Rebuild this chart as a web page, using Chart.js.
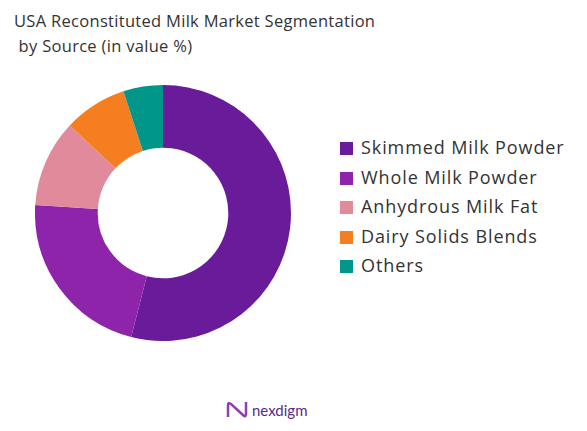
<!DOCTYPE html>
<html><head><meta charset="utf-8">
<script src="https://cdn.jsdelivr.net/npm/chart.js@4"></script>
<style>
html,body{margin:0;padding:0;background:#fff;width:587px;height:431px;overflow:hidden;font-family:"Open Sans",sans-serif}
#t{position:absolute;left:14px;top:8px;font-size:16.5px;color:#333;line-height:25px;letter-spacing:0.3px}
#w{position:absolute;left:35px;top:85px;width:256px;height:256px}
#lg{position:absolute;left:340px;top:135px;font-size:18px;color:#333;letter-spacing:0.9px}
#lg div{height:29.5px;line-height:24px;white-space:nowrap}
#lg span{display:inline-block;width:13px;height:13px;margin-right:8px;vertical-align:-1px}
#logo{position:absolute;left:226px;top:400px;font-size:15px;color:#5b2a86;font-family:Lato,sans-serif;display:flex;align-items:center;gap:4px}
</style></head><body>
<div id="t">USA Reconstituted Milk Market Segmentation<br>&nbsp;by Source (in value %)</div>
<div id="w"><canvas id="c"></canvas></div>
<div id="lg"></div>
<div id="logo"><svg width="22" height="20" viewBox="0 0 22 20"><path d="M2 17 V5 Q2 2 5 4 L17 15 Q20 18 20 14 V2" fill="none" stroke="#8e3fb5" stroke-width="2.5"/></svg>nexdigm</div>
<script>
const categories=["Skimmed Milk Powder","Whole Milk Powder","Anhydrous Milk Fat","Dairy Solids Blends","Others"];
const values=[54,22,11,8,5];
const colors=["#6a1b9a","#8e24aa","#e08a9c","#f57f20","#00968a"];
document.getElementById('lg').innerHTML=categories.map((c,i)=>`<div><span style="background:${colors[i]}"></span>${c}</div>`).join('');
new Chart(document.getElementById('c'),{type:'doughnut',
data:{labels:categories,datasets:[{data:values,backgroundColor:colors,borderWidth:0}]},
options:{responsive:true,maintainAspectRatio:false,animation:false,cutout:'51%',
plugins:{tooltip:{enabled:false},legend:{display:false}}}});
</script></body></html>
